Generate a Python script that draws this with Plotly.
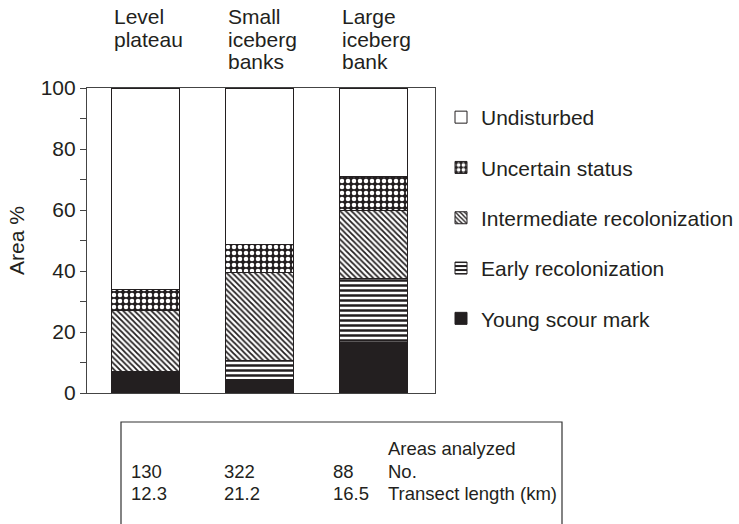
import plotly.graph_objects as go

categories = ["Level plateau", "Small iceberg banks", "Large iceberg bank"]
category_lines = [["Level", "plateau"], ["Small", "iceberg", "banks"], ["Large", "iceberg", "bank"]]

young_scour = [7.0, 4.3, 16.6]
early_recol = [0.0, 6.5, 21.0]
intermediate_recol = [20.2, 28.8, 22.4]
uncertain_status = [6.8, 9.2, 11.1]
undisturbed = [66.0, 51.2, 28.9]

areas_no = ["130", "322", "88"]
transect_km = ["12.3", "21.2", "16.5"]
table_labels = ["Areas analyzed", "No.", "Transect length (km)"]
y_ticks = [0, 20, 40, 60, 80, 100]

DARK = "#231f20"
FONT = "Liberation Sans, Arial, sans-serif"

# plot-area geometry in screen pixels (page body margin removed via post_script)
L, R, T, B = 87, 435, 88, 393
W, H = 739, 524
PW, PH = R - L, B - T
BAR_W = 0.59

def px2x(px):
    return (px - L) / PW

def py2y(py):
    return (B - py) / PH

xs = list(range(len(categories)))
series = [
    ("Young scour mark", young_scour, dict(color=DARK)),
    ("Early recolonization", early_recol,
     dict(color="white", pattern=dict(shape="-", fgcolor=DARK, bgcolor="white", size=5, solidity=0.5, fillmode="replace"))),
    ("Intermediate recolonization", intermediate_recol,
     dict(color="white", pattern=dict(shape="\\", fgcolor=DARK, bgcolor="white", size=4, solidity=0.45, fillmode="replace"))),
    ("Uncertain status", uncertain_status,
     dict(color=DARK, pattern=dict(shape=".", fgcolor="white", bgcolor=DARK, size=6, solidity=0.45, fillmode="replace"))),
    ("Undisturbed", undisturbed, dict(color="white")),
]

fig = go.Figure()
for i, (name, vals, mk) in enumerate(series):
    mk = dict(mk)
    mk["line"] = dict(color=DARK, width=1)
    fig.add_trace(go.Bar(
        x=xs, y=vals, name=name, width=BAR_W, marker=mk,
        legendgroup=name, legendrank=len(series) - i,
    ))

annotations = []
# category labels (left aligned at bar left edge)
line_px = [16, 39, 62]
for i, lines in enumerate(category_lines):
    for j, txt in enumerate(lines):
        annotations.append(dict(
            x=i - BAR_W / 2, xref="x", xanchor="left",
            y=py2y(line_px[j]), yref="paper", yanchor="middle",
            text=txt, showarrow=False, font=dict(size=21, color=DARK, family=FONT),
        ))

# table below
col_px = [129, 222, 331]
row_px = [448, 471, 494]
label_px = 386
for i in range(len(categories)):
    for r, vals in ((1, areas_no), (2, transect_km)):
        annotations.append(dict(
            x=px2x(col_px[i]), xref="paper", xanchor="left",
            y=py2y(row_px[r]), yref="paper", yanchor="middle",
            text=vals[i], showarrow=False, font=dict(size=18.5, color=DARK, family=FONT),
        ))
for r, txt in enumerate(table_labels):
    annotations.append(dict(
        x=px2x(label_px), xref="paper", xanchor="left",
        y=py2y(row_px[r]), yref="paper", yanchor="middle",
        text=txt, showarrow=False, font=dict(size=18.5, color=DARK, family=FONT),
    ))

box_l, box_r, box_t, box_b = px2x(121), px2x(562), py2y(422), py2y(530)
shapes = [dict(
    type="path", xref="paper", yref="paper",
    path=f"M {box_l} {box_b} L {box_l} {box_t} L {box_r} {box_t} L {box_r} {box_b}",
    line=dict(color="#333", width=1.2),
)]

fig.update_layout(
    width=W, height=H,
    margin=dict(l=L, r=W - R, t=T, b=H - B, pad=0, autoexpand=False),
    barmode="stack",
    plot_bgcolor="white", paper_bgcolor="white",
    font=dict(family=FONT, size=21, color=DARK),
    showlegend=True,
    legend=dict(
        xref="container", yref="container",
        x=441 / W, xanchor="left", y=1 - 97 / H, yanchor="top",
        font=dict(size=21, color=DARK, family=FONT),
        tracegroupgap=20, traceorder="grouped", bgcolor="rgba(0,0,0,0)",
    ),
    annotations=annotations,
    shapes=shapes,
    xaxis=dict(
        range=[-0.513, 2.54], showticklabels=False, ticks="",
        showline=True, linecolor="#444", linewidth=1.2, mirror=True,
        showgrid=False, zeroline=False, fixedrange=True, automargin=False,
    ),
    yaxis=dict(
        range=[0, 100], tickvals=y_ticks, ticks="outside", ticklen=6, tickcolor="#444",
        tickfont=dict(size=21, color=DARK, family=FONT),
        minor=dict(dtick=10, ticks="outside", ticklen=6, tickcolor="#444"),
        showline=True, linecolor="#444", linewidth=1.2, mirror=True,
        showgrid=False, zeroline=False, automargin=False,
        title=dict(text="Area %", font=dict(size=21, color=DARK, family=FONT), standoff=10),
    ),
)

fig.write_html(
    "out.html",
    config={"displayModeBar": False},
    post_script="document.body.style.margin='0';document.body.style.overflow='hidden';",
)
